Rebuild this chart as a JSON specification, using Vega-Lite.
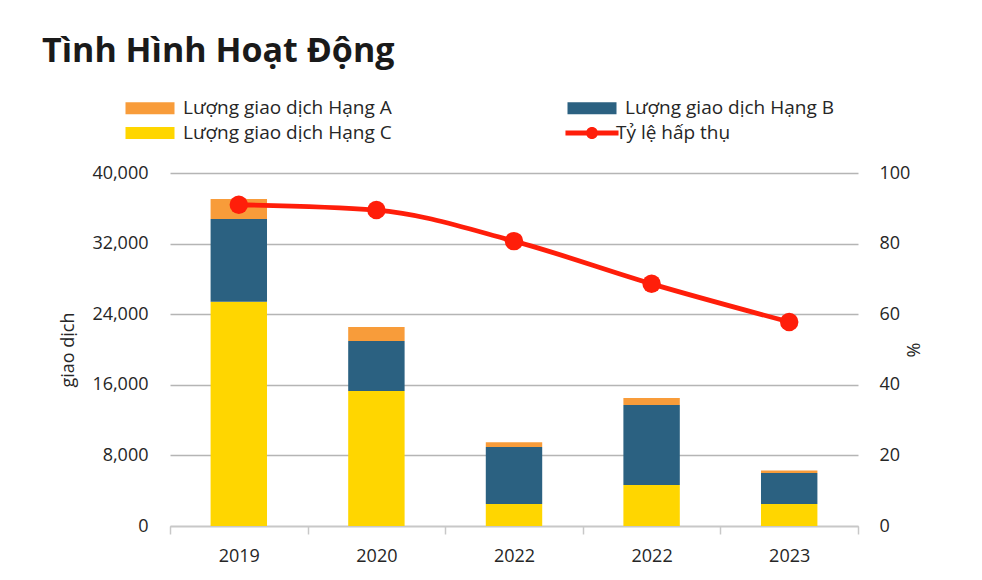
{
  "$schema": "https://vega.github.io/schema/vega-lite/v6.json",
  "autosize": "none",
  "padding": {"left": 170, "top": 173, "right": 124, "bottom": 54},
  "width": 688,
  "height": 353,
  "background": "white",
  "config": {
    "view": {"stroke": null},
    "font": "Open Sans",
    "axis": {
      "labelFont": "Open Sans",
      "labelFontSize": 18,
      "labelColor": "#262626",
      "titleFont": "Open Sans",
      "titleFontSize": 18,
      "titleColor": "#262626",
      "titleFontWeight": "normal"
    }
  },
  "title": {
    "text": "Tình Hình Hoạt Động",
    "anchor": "start",
    "frame": "group",
    "font": "Open Sans",
    "fontSize": 34,
    "fontWeight": "bold",
    "color": "#1a1a1a",
    "baseline": "alphabetic",
    "dx": -128,
    "offset": 3
  },
  "datasets": {
    "bars": [
      {"nam": "2019", "hang": "Lượng giao dịch Hạng C", "luong": 25400},
      {"nam": "2019", "hang": "Lượng giao dịch Hạng B", "luong": 9400},
      {"nam": "2019", "hang": "Lượng giao dịch Hạng A", "luong": 2250},
      {"nam": "2020", "hang": "Lượng giao dịch Hạng C", "luong": 15300},
      {"nam": "2020", "hang": "Lượng giao dịch Hạng B", "luong": 5650},
      {"nam": "2020", "hang": "Lượng giao dịch Hạng A", "luong": 1600},
      {"nam": "2022", "hang": "Lượng giao dịch Hạng C", "luong": 2500},
      {"nam": "2022", "hang": "Lượng giao dịch Hạng B", "luong": 6450},
      {"nam": "2022", "hang": "Lượng giao dịch Hạng A", "luong": 550},
      {"nam": "2022 ", "hang": "Lượng giao dịch Hạng C", "luong": 4650},
      {"nam": "2022 ", "hang": "Lượng giao dịch Hạng B", "luong": 9050},
      {"nam": "2022 ", "hang": "Lượng giao dịch Hạng A", "luong": 800},
      {"nam": "2023", "hang": "Lượng giao dịch Hạng C", "luong": 2500},
      {"nam": "2023", "hang": "Lượng giao dịch Hạng B", "luong": 3500},
      {"nam": "2023", "hang": "Lượng giao dịch Hạng A", "luong": 300}
    ],
    "rate": [
      {"nam": "2019", "ty_le": 91},
      {"nam": "2020", "ty_le": 89.5},
      {"nam": "2022", "ty_le": 80.7},
      {"nam": "2022 ", "ty_le": 68.6},
      {"nam": "2023", "ty_le": 57.8}
    ]
  },
  "encoding": {
    "x": {
      "field": "nam",
      "type": "nominal",
      "sort": null,
      "scale": {"paddingInner": 0, "paddingOuter": 0},
      "axis": {
        "title": null,
        "labelAngle": 0,
        "labelExpr": "trim(datum.label)",
        "tickBand": "extent",
        "domainColor": "#c8c8c8",
        "domainWidth": 1.5,
        "tickColor": "#c8c8c8",
        "tickWidth": 1.5,
        "tickSize": 8,
        "labelPadding": 13
      }
    }
  },
  "layer": [
    {
      "data": {"name": "bars"},
      "mark": {"type": "bar", "width": {"band": 0.41}},
      "encoding": {
        "y": {
          "field": "luong",
          "type": "quantitative",
          "stack": "zero",
          "scale": {"domain": [0, 40000]},
          "axis": {
            "title": "giao dịch",
            "values": [0, 8000, 16000, 24000, 32000, 40000],
            "format": ",d",
            "grid": true,
            "gridColor": "#b5b5b5",
            "gridWidth": 1.3,
            "domain": false,
            "ticks": false,
            "labelPadding": 22,
            "titlePadding": 14
          }
        },
        "color": {
          "field": "hang",
          "type": "nominal",
          "scale": {
            "domain": ["Lượng giao dịch Hạng A", "Lượng giao dịch Hạng B", "Lượng giao dịch Hạng C", "Tỷ lệ hấp thụ"],
            "range": ["#F89C3A", "#2B6181", "#FFD600", "#FF1E0A"]
          },
          "legend": {
            "orient": "none",
            "direction": "horizontal",
            "legendX": -29.5,
            "legendY": -74.5,
            "title": null,
            "columns": 2,
            "columnPadding": 172,
            "rowPadding": 5,
            "symbolSize": 196,
            "symbolType": "M-3.5,-0.86H3.5V0.86H-3.5Z",
            "symbolStrokeWidth": 0,
            "symbolOpacity": 1,
            "labelOffset": 23.5,
            "labelFont": "Open Sans",
            "labelFontSize": 19,
            "labelColor": "#262626",
            "labelLimit": 400,
            "encode": {
              "symbols": {
                "update": {
                  "shape": {"signal": "datum.label == 'Tỷ lệ hấp thụ' ? 'M-3.79,-0.36H3.79V0.36H-3.79Z M-0.86,0A0.86,0.86 0 1,1 0.86,0A0.86,0.86 0 1,1 -0.86,0Z' : 'M-3.5,-0.86H3.5V0.86H-3.5Z'"},
                  "fill": {"scale": "color", "field": "value"},
                  "stroke": {"value": "transparent"},
                  "opacity": {"value": 1}
                }
              },
              "labels": {
                "update": {
                  "dx": {"signal": "datum.label == 'Tỷ lệ hấp thụ' ? -9 : 0"}
                }
              }
            }
          }
        },
        "order": {"field": "hang", "sort": "descending"}
      }
    },
    {
      "data": {"name": "rate"},
      "mark": {"type": "line", "interpolate": "monotone", "strokeWidth": 4.8},
      "encoding": {
        "y": {
          "field": "ty_le",
          "type": "quantitative",
          "scale": {"domain": [0, 100]},
          "axis": {
            "orient": "right",
            "title": "%",
            "titleAngle": 270,
            "values": [0, 20, 40, 60, 80, 100],
            "grid": false,
            "domain": false,
            "ticks": false,
            "labelPadding": 21,
            "titlePadding": 14
          }
        },
        "color": {"datum": "Tỷ lệ hấp thụ"}
      }
    },
    {
      "data": {"name": "rate"},
      "mark": {"type": "point", "filled": true, "opacity": 1, "size": 340},
      "encoding": {
        "y": {"field": "ty_le", "type": "quantitative", "axis": null},
        "color": {"datum": "Tỷ lệ hấp thụ"}
      }
    }
  ],
  "resolve": {"scale": {"y": "independent"}}
}
